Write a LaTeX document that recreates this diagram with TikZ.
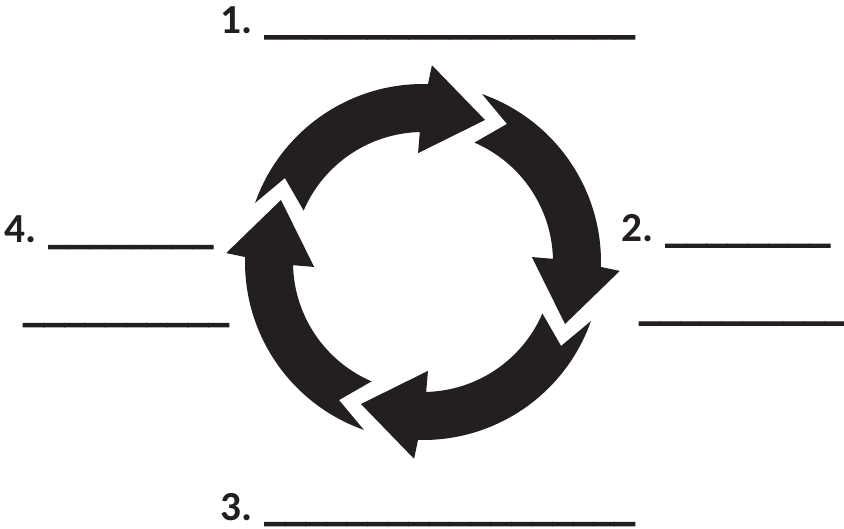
\documentclass[tikz,border=0pt]{standalone}
\usepackage{fontspec}
\setmainfont{Carlito}
\newfontfamily\ulfont{Carlito}[FakeBold=2.5]
\newcommand{\blanks}[1]{{\ulfont\bfseries\foreach \i in {1,...,#1}{\_}}}
\definecolor{ink}{HTML}{231F20}
\begin{document}
\begin{tikzpicture}[x=1pt,y=1pt,
  lbl/.style={anchor=base west, inner sep=0pt, font=\fontsize{41.3}{48}\selectfont\bfseries, text=ink},
  cyclearrow/.style={fill=ink, draw=none}]
\useasboundingbox (0,0) rectangle (844,528);
\foreach \k in {0,1,2,3} {
  \begin{scope}[shift={(423,266)}, rotate=-90*\k]
    \fill[cyclearrow] (160.6:178) arc[start angle=160.6, end angle=88.4, radius=178]
      -- (87.4:197) -- (66.4:155) -- (92.6:109) -- (91.4:130)
      arc[start angle=91.4, end angle=156.7, radius=130]
      -- (148.7:161.6) -- cycle;
  \end{scope}
}
\node[lbl] (n1) at (220,494.7) {1. \blanks{18}};
\node[lbl] (n4a) at (4,285) {4. \blanks{8}};
\node[lbl] (n4b) at (23,207) {\blanks{10}};
\node[lbl] (n2a) at (621,286.3) {2. \blanks{8}};
\node[lbl] (n2b) at (639,208.5) {\blanks{10}};
\node[lbl] (n3) at (220,8) {3. \blanks{18}};
\end{tikzpicture}
\end{document}
